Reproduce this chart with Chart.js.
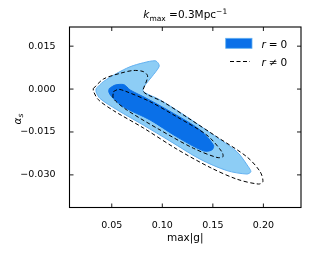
<!DOCTYPE html>
<html><head><meta charset="utf-8">
<script src="https://cdn.jsdelivr.net/npm/chart.js@4.4.1/dist/chart.umd.min.js"></script>
<style>html,body{margin:0;padding:0;background:#fff}</style>
</head><body>
<canvas id="c" width="312" height="253" style="width:312px;height:253px"></canvas>
<script>
// ---- data ----
const xTicks = [0.05, 0.10, 0.15, 0.20];
const yTicks = [-0.030, -0.015, 0.000, 0.015];
const xRange = [0.0082, 0.2372];
const yRange = [-0.0414, 0.0217];

// r = 0, outer (95%) contour  [max|g|, alpha_s]
const r0Outer = [
  [0.0345,0.0002],[0.0417,0.0026],[0.0550,0.0055],[0.0681,0.0078],[0.0813,0.0092],
  [0.0929,0.0099],[0.0961,0.0090],[0.0968,0.0078],[0.0896,0.0043],[0.0830,0.0014],
  [0.0807,-0.0003],[0.0830,-0.0013],[0.0978,-0.0038],[0.1243,-0.0097],[0.1506,-0.0161],
  [0.1738,-0.0219],[0.1852,-0.0272],[0.1876,-0.0289],[0.1837,-0.0297],[0.1639,-0.0285],
  [0.1374,-0.0245],[0.1077,-0.0182],[0.0813,-0.0126],[0.0550,-0.0072],[0.0384,-0.0033],
  [0.0345,-0.0010]
];
// r = 0, inner (68%) contour
const r0Inner = [
  [0.0476,0.0002],[0.0533,0.0014],[0.0615,0.0016],[0.0649,0.0008],[0.0681,-0.0003],
  [0.0847,-0.0033],[0.1110,-0.0085],[0.1374,-0.0143],[0.1506,-0.0196],[0.1490,-0.0213],
  [0.1407,-0.0216],[0.1144,-0.0167],[0.0879,-0.0108],[0.0615,-0.0062],[0.0500,-0.0027],
  [0.0470,-0.0009]
];
// r != 0, outer (95%) contour
const rnOuter = [
  [0.0318,0.0002],[0.0417,0.0035],[0.0582,0.0055],[0.0714,0.0065],[0.0813,0.0061],
  [0.0854,0.0047],[0.0844,0.0028],[0.0820,0.0007],[0.0810,-0.0007],[0.0850,-0.0019],
  [0.1008,-0.0045],[0.1255,-0.0101],[0.1540,-0.0167],[0.1837,-0.0237],[0.1968,-0.0289],
  [0.1995,-0.0324],[0.1951,-0.0332],[0.1738,-0.0315],[0.1473,-0.0274],[0.1144,-0.0210],
  [0.0813,-0.0136],[0.0516,-0.0075],[0.0367,-0.0037],[0.0318,-0.0007]
];
// r != 0, inner (68%) contour
const rnInner = [
  [0.0516,-0.0009],[0.0565,-0.0001],[0.0632,-0.0007],[0.0879,-0.0044],[0.1144,-0.0097],
  [0.1441,-0.0161],[0.1589,-0.0219],[0.1599,-0.0237],[0.1540,-0.0239],[0.1308,-0.0207],
  [0.0978,-0.0143],[0.0649,-0.0073],[0.0516,-0.0033]
];

const DARK = '#0a70e8', LIGHT = '#8dcdf5', LIGHT_EDGE = '#62b0f0';
const FONT = "'DejaVu Sans', sans-serif";

function closed(arr){ const p = arr.map(([x,y])=>({x,y})); p.push({...p[0]}); return p; }

const decor = {
  id:'decor',
  afterDraw(chart){
    const ctx = chart.ctx, a = chart.chartArea;
    const xs = chart.scales.x, ys = chart.scales.y;
    ctx.save();
    // frame
    ctx.strokeStyle = '#000'; ctx.lineWidth = 1.1;
    ctx.strokeRect(a.left, a.top, a.right - a.left, a.bottom - a.top);
    // inward ticks on all sides
    ctx.lineWidth = 0.9;
    ctx.beginPath();
    xTicks.forEach(v => { const px = xs.getPixelForValue(v);
      ctx.moveTo(px, a.bottom); ctx.lineTo(px, a.bottom - 4);
      ctx.moveTo(px, a.top); ctx.lineTo(px, a.top + 4); });
    yTicks.forEach(v => { const py = ys.getPixelForValue(v);
      ctx.moveTo(a.left, py); ctx.lineTo(a.left + 4, py);
      ctx.moveTo(a.right, py); ctx.lineTo(a.right - 4, py); });
    ctx.stroke();

    ctx.fillStyle = '#000';
    ctx.textBaseline = 'alphabetic';
    // title k_max =0.3Mpc^-1
    const big = '10.5px ' + FONT, bigI = 'italic 10.5px ' + FONT, small = '7.5px ' + FONT;
    const parts = [
      {t:'k', f:bigI, dy:0}, {t:'max', f:small, dy:2.5}, {t:' =0.3Mpc', f:big, dy:0}, {t:'\u22121', f:small, dy:-4.5}
    ];
    let w = 0; parts.forEach(p => { ctx.font = p.f; p.w = ctx.measureText(p.t).width; w += p.w; });
    let x0 = (a.left + a.right)/2 - w/2; const by = 18;
    parts.forEach(p => { ctx.font = p.f; ctx.fillText(p.t, x0, by + p.dy); x0 += p.w; });

    // x label
    ctx.font = big; ctx.textAlign = 'center';
    ctx.fillText('max|g|', (a.left + a.right)/2, 240.5);
    ctx.textAlign = 'left';

    // y label alpha_s
    ctx.save();
    ctx.translate(20.5, 119); ctx.rotate(-Math.PI/2);
    ctx.font = bigI; const wa = ctx.measureText('\u03b1').width;
    ctx.font = small; const ws = ctx.measureText('s').width;
    ctx.font = bigI; ctx.fillText('\u03b1', -(wa+ws)/2, 0);
    ctx.font = 'italic 7.5px ' + FONT; ctx.fillText('s', -(wa+ws)/2 + wa, 2.5);
    ctx.restore();

    // legend
    ctx.fillStyle = DARK; ctx.fillRect(225.7, 38.3, 26.3, 10);
    ctx.strokeStyle = LIGHT_EDGE; ctx.lineWidth = 0.8; ctx.strokeRect(225.7, 38.3, 26.3, 10);
    ctx.strokeStyle = '#000'; ctx.lineWidth = 1; ctx.setLineDash([4,2.5]);
    ctx.beginPath(); ctx.moveTo(230, 61.5); ctx.lineTo(250, 61.5); ctx.stroke();
    ctx.setLineDash([]);
    ctx.fillStyle = '#000';
    const legendRow = (y, sym) => {
      let x = 261.5;
      ctx.font = bigI; ctx.fillText('r', x, y); x += ctx.measureText('r').width + 3;
      ctx.font = big; ctx.fillText(sym, x, y); x += ctx.measureText(sym).width + 3;
      ctx.fillText('0', x, y);
    };
    legendRow(48, '=');
    legendRow(65.5, '\u2260');
    ctx.restore();
  }
};

const tickFont = {family: FONT, size: 9.5};
new Chart(document.getElementById('c'), {
  type: 'scatter',
  data: { datasets: [
    {label:'r = 0 (95%)', data: closed(r0Outer), showLine:true, fill:'shape', backgroundColor: LIGHT,
     borderColor: LIGHT_EDGE, borderWidth: 1, pointRadius: 0, tension: 0.3, order: 4},
    {label:'r = 0 (68%)', data: closed(r0Inner), showLine:true, fill:'shape', backgroundColor: DARK,
     borderColor: DARK, borderWidth: 1, pointRadius: 0, tension: 0.3, order: 3},
    {label:'r \u2260 0 (95%)', data: closed(rnOuter), showLine:true, fill:false, borderColor:'#000',
     borderWidth: 1, borderDash:[4,2.5], pointRadius: 0, tension: 0.3, order: 2},
    {label:'r \u2260 0 (68%)', data: closed(rnInner), showLine:true, fill:false, borderColor:'#000',
     borderWidth: 1, borderDash:[4,2.5], pointRadius: 0, tension: 0.3, order: 1}
  ]},
  options: {
    responsive: false, animation: false, devicePixelRatio: 1,
    layout: { padding: {left: 0, right: 11, top: 27, bottom: 0} },
    plugins: { legend: {display:false}, tooltip: {enabled:false}, title: {display:false} },
    scales: {
      x: { type:'linear', min: xRange[0], max: xRange[1],
           grid: {display:false}, border: {display:false},
           afterBuildTicks: s => { s.ticks = xTicks.map(v => ({value: v})); },
           afterFit: s => { s.height = 45.5; },
           ticks: { font: tickFont, color:'#000', padding: 4, autoSkip:false, maxRotation:0,
                    callback: v => v.toFixed(2) } },
      y: { type:'linear', min: yRange[0], max: yRange[1],
           grid: {display:false}, border: {display:false},
           afterBuildTicks: s => { s.ticks = yTicks.map(v => ({value: v})); },
           afterFit: s => { s.width = 69.5; },
           ticks: { font: tickFont, color:'#000', padding: 6, autoSkip:false,
                    callback: v => (v < 0 ? '\u2212' : '') + Math.abs(v).toFixed(3) } }
    }
  },
  plugins: [decor]
});
</script>
</body></html>
